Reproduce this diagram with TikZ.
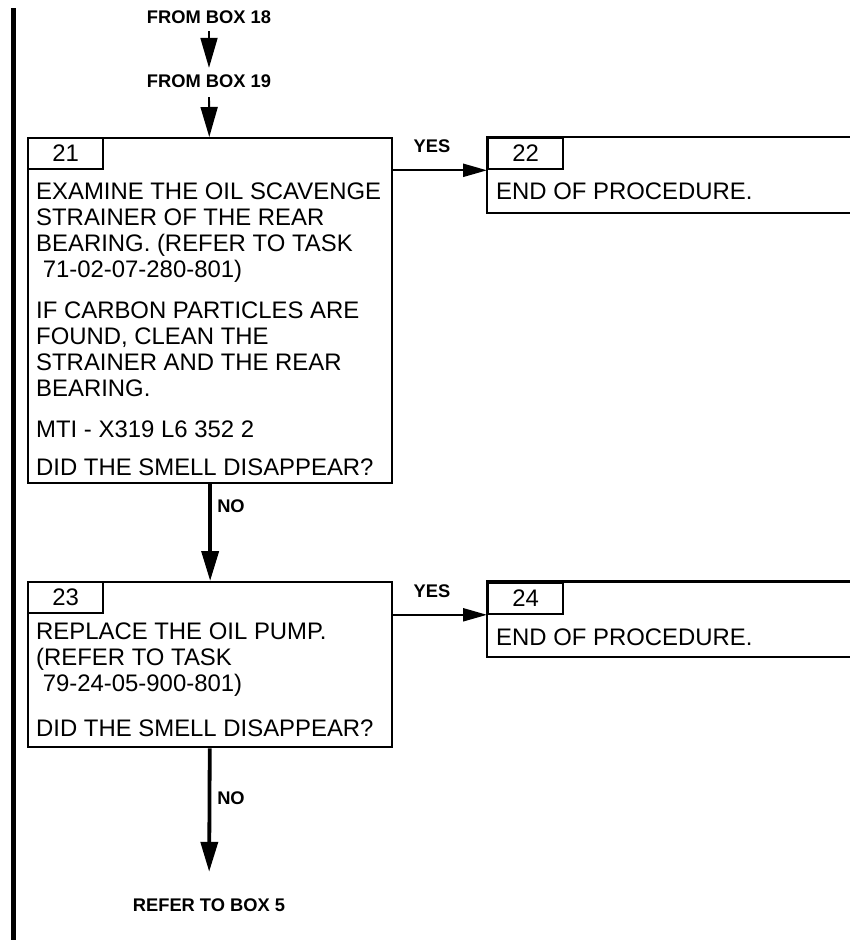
\documentclass[tikz,border=0pt]{standalone}
\usepackage{fontspec}
\setmainfont{Liberation Sans}
\usetikzlibrary{arrows.meta}
\begin{document}
\begin{tikzpicture}[x=1pt,y=-1pt,
  lbl/.style={font=\bfseries\fontsize{18.3}{21}\selectfont, inner sep=0pt},
  txt/.style={font=\fontsize{23.9}{26}\selectfont, inner sep=0pt, anchor=base west},
  boxframe/.style={draw, line width=2.3pt, rectangle, inner sep=0pt, anchor=north west},
  numbox/.style={draw, line width=2.3pt, rectangle, inner sep=0pt, anchor=north west,
    minimum width=75pt, minimum height=31pt, font=\fontsize{23.9}{26}\selectfont},
  thinarrow/.style={line width=1.8pt, -{Triangle[length=30pt,width=17pt]}},
  yesarrow/.style={line width=2.2pt, -{Triangle[length=24pt,width=13pt]}},
  noarrow/.style={line width=3.8pt, -{Triangle[length=30pt,width=17pt]}},
  openframe/.style={line width=2.3pt},
]
\useasboundingbox (0,0) rectangle (849,940);
\fill[white] (0,0) rectangle (849,940);

% change bar
\draw[line width=4.5pt] (13.5,8) -- (13.5,940);

% entry labels
\node[lbl] (from18) at (209,17.5) {FROM BOX 18};
\node[lbl] (from19) at (209,81.5) {FROM BOX 19};

% box 21
\node[boxframe, minimum width=364pt, minimum height=345pt] (b21) at (27,137) {};
\node[numbox] (n21) at (b21.north west) {21};
\foreach \yy/\mytext [count=\i] in {
  199/EXAMINE THE OIL SCAVENGE,
  225/STRAINER OF THE REAR,
  251/BEARING. (REFER TO TASK,
  277/\ 71-02-07-280-801),
  318.5/IF CARBON PARTICLES ARE,
  344.5/{FOUND, CLEAN THE},
  370.5/STRAINER AND THE REAR,
  396.5/BEARING.,
  437.5/MTI - X319 L6 352 2,
  475.5/DID THE SMELL DISAPPEAR?}
  \node[txt] (t21-\i) at (36,\yy) {\mytext};

% box 22
\node[boxframe, draw=none, minimum width=362pt, minimum height=74pt] (b22) at (487,137) {};
\draw[openframe] (b22.north east) -- (b22.north west) -- (b22.south west) -- (b22.south east);
\node[numbox] (n22) at (b22.north west) {22};
\node[txt] (t22) at (496,199) {END OF PROCEDURE.};

% box 23
\node[boxframe, minimum width=364pt, minimum height=165pt] (b23) at (27,581) {};
\node[numbox] (n23) at (b23.north west) {23};
\foreach \yy/\mytext [count=\i] in {
  639.5/REPLACE THE OIL PUMP.,
  665.5/(REFER TO TASK,
  691.5/\ 79-24-05-900-801),
  736/DID THE SMELL DISAPPEAR?}
  \node[txt] (t23-\i) at (36,\yy) {\mytext};

% box 24
\node[boxframe, draw=none, minimum width=362pt, minimum height=73pt] (b24) at (487,581.5) {};
\draw[openframe] (b24.north east) -- (b24.north west) -- (b24.south west) -- (b24.south east);
\node[numbox] (n24) at (b24.north west) {24};
\node[txt] (t24) at (496,645.5) {END OF PROCEDURE.};

% labels
\node[lbl] (yes1) at (432,146.5) {YES};
\node[lbl] (yes2) at (432,591) {YES};
\node[lbl] (no1) at (231,506) {NO};
\node[lbl] (no2) at (231,798) {NO};
\node[lbl] (refer) at (209,905.5) {REFER TO BOX 5};

% connectors
\draw[thinarrow, shorten <=7pt, shorten >=7pt] (from18) -- (from19);
\draw[thinarrow, shorten <=9pt] (from19) -- (b21);
\draw[yesarrow] (b21.east |- n22.south) -- (n22.south west);
\draw[noarrow] (b21) -- (b23);
\draw[yesarrow] (b23.east |- n24.south) -- (n24.south west);
\draw[noarrow, shorten >=27pt] (b23) -- (refer);
\end{tikzpicture}
\end{document}
